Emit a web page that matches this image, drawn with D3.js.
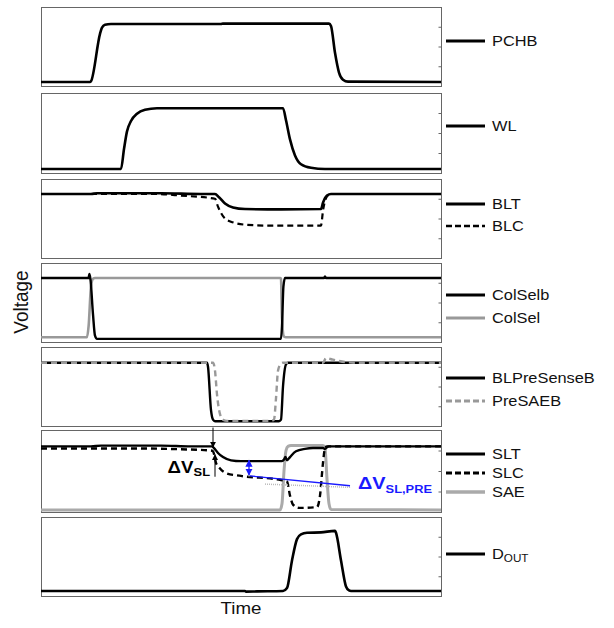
<!DOCTYPE html>
<html lang="en">
<head>
    <meta charset="UTF-8">
    <title>Read timing waveforms</title>
    <style>
        body {
            margin: 0;
            background: #fff;
        }
        svg text {
            font-family: "Liberation Sans", Arial, sans-serif;
        }
        .frame {
            fill: none;
            stroke: #666;
            stroke-width: 1px;
        }
        .trace {
            fill: none;
            stroke-linejoin: round;
            stroke-linecap: butt;
        }
        .legend-text {
            font-size: 14px;
            fill: #111;
        }
    </style>
</head>
<body>
    <svg id="chart" width="614" height="628"></svg>

    <script src="https://d3js.org/d3.v7.min.js"></script>
    <script>
        // waveforms: [time (ns), voltage (normalised)]
        const pchb = [[0,0.05],[2.45,0.05],[2.5,0.06],[2.95,0.66],[3.05,0.74],[3.2,0.775],[3.5,0.785],[9,0.785],[9.1,0.79],[14.4,0.79],[14.5,0.76],[14.7,0.42],[14.9,0.17],[15.1,0.08],[15.35,0.055],[20,0.05]];
        const wl = [[0,0.05],[4.0,0.05],[4.15,0.3],[4.3,0.52],[4.5,0.65],[4.8,0.74],[5.2,0.79],[5.8,0.81],[12.1,0.81],[12.25,0.66],[12.45,0.42],[12.7,0.22],[13.0,0.11],[13.5,0.065],[14.2,0.05],[20,0.05]];
        const blt = [[0,0.81],[2.5,0.81],[2.8,0.82],[6,0.82],[8,0.81],[8.7,0.81],[8.9,0.77],[9.2,0.69],[9.6,0.64],[10.2,0.62],[12,0.615],[14.0,0.62],[14.1,0.7],[14.3,0.79],[14.5,0.81],[20,0.81]];
        const blc = [[0,0.81],[5.8,0.81],[7.0,0.79],[8.7,0.75],[8.85,0.65],[9.1,0.53],[9.5,0.46],[10.3,0.42],[11.5,0.41],[14.0,0.41],[14.1,0.6],[14.3,0.78],[14.5,0.81],[20,0.81]];
        const colSelb = [[0,0.81],[2.38,0.81],[2.42,0.86],[2.47,0.8],[2.6,0.35],[2.7,0.08],[2.8,0.04],[12.0,0.04],[12.05,0.2],[12.12,0.7],[12.2,0.81],[14.15,0.81],[14.2,0.83],[14.25,0.81],[20,0.81]];
        const colSel = [[0,0.06],[2.3,0.06],[2.38,0.2],[2.5,0.7],[2.6,0.8],[2.7,0.81],[11.95,0.81],[12.0,0.8],[12.05,0.3],[12.15,0.07],[12.25,0.06],[20,0.06]];
        const blPreSenseB = [[0,0.8],[8.3,0.8],[8.35,0.75],[8.5,0.2],[8.6,0.08],[8.7,0.06],[11.9,0.06],[12.0,0.08],[12.1,0.5],[12.25,0.78],[12.35,0.8],[20,0.8]];
        const preSAEB = [[0,0.8],[8.6,0.8],[8.7,0.7],[8.8,0.4],[8.95,0.15],[9.1,0.08],[9.3,0.065],[11.5,0.065],[11.65,0.08],[11.75,0.35],[11.85,0.7],[12.0,0.79],[12.1,0.8],[14.1,0.8],[14.25,0.86],[14.6,0.84],[15.2,0.81],[16,0.8],[20,0.8]];
        const slt = [[0,0.8],[2.5,0.8],[3.0,0.81],[6,0.81],[7.5,0.8],[8.55,0.8],[8.65,0.78],[8.85,0.72],[9.1,0.67],[9.5,0.63],[10.0,0.62],[12.05,0.62],[12.15,0.64],[12.22,0.67],[12.3,0.63],[12.45,0.67],[12.75,0.74],[13.2,0.77],[13.6,0.78],[14.1,0.78],[14.2,0.77],[14.3,0.79],[14.4,0.8],[20,0.8]];
        const slc = [[0,0.775],[5,0.775],[7,0.765],[8.5,0.75],[8.6,0.74],[8.75,0.6],[8.95,0.53],[9.3,0.47],[10,0.44],[12.0,0.39],[12.3,0.37],[12.45,0.2],[12.6,0.09],[12.9,0.05],[13.8,0.06],[13.95,0.2],[14.1,0.6],[14.2,0.78],[14.3,0.8],[20,0.8]];
        const sae = [[0,0.025],[11.95,0.025],[12.05,0.1],[12.15,0.5],[12.25,0.75],[12.35,0.8],[12.5,0.81],[14.1,0.81],[14.2,0.78],[14.3,0.4],[14.4,0.1],[14.5,0.03],[20,0.025]];
        const dout = [[0,0.063],[10.2,0.063],[10.25,0.055],[10.8,0.058],[12.1,0.063],[12.3,0.1],[12.55,0.45],[12.8,0.72],[13.0,0.78],[13.3,0.8],[14.0,0.805],[14.7,0.825],[14.75,0.8],[15.0,0.45],[15.25,0.12],[15.4,0.07],[15.5,0.063],[20,0.063]];

        const panelSeries = [
            ["PCHB"],
            ["WL"],
            ["BLT", "BLC"],
            ["ColSelb", "ColSel"],
            ["BLPreSenseB", "PreSAEB"],
            ["SLT", "SLC", "SAE"],
            ["DOUT"]
        ];

        const seriesData = {
            PCHB: pchb, WL: wl, BLT: blt, BLC: blc, ColSelb: colSelb, ColSel: colSel,
            BLPreSenseB: blPreSenseB, PreSAEB: preSAEB, SLT: slt, SLC: slc, SAE: sae, DOUT: dout
        };

        // look of each trace
        const styles = {
            PCHB: { color: "#000", width: 2.6 },
            WL: { color: "#000", width: 2.6 },
            BLT: { color: "#000", width: 2.6 },
            BLC: { color: "#000", width: 2.2, dash: "6,4" },
            ColSelb: { color: "#000", width: 2.4 },
            ColSel: { color: "#999", width: 2.6 },
            BLPreSenseB: { color: "#000", width: 2.4 },
            PreSAEB: { color: "#999", width: 2.4, dash: "6,4" },
            SLT: { color: "#000", width: 2.4 },
            SLC: { color: "#000", width: 2.4, dash: "6,4" },
            SAE: { color: "#aaa", width: 3 },
            DOUT: { color: "#000", width: 2.6 }
        };

        // draw order per panel (back to front)
        const drawOrder = [
            ["PCHB"], ["WL"], ["BLT", "BLC"], ["ColSel", "ColSelb"],
            ["BLPreSenseB", "PreSAEB"], ["SAE", "SLT", "SLC"], ["DOUT"]
        ];

        const panelTops = [7, 93, 179, 263, 347, 430, 517];
        const panelBottoms = [86, 173, 258, 342, 426, 512, 596];
        const legendOffsets = [[34], [33], [25, 47], [32, 55], [31, 54], [24, 43, 62], [37]];

        const svg = d3.select("#chart");
        const left = 41, right = 441;
        const stretch = 1.17; // the source figure is a bit wider than tall

        const x = d3.scaleLinear().domain([0, 20]).range([left, right]);

        const line = (y) => d3.line()
            .x(d => x(d[0]))
            .y(d => y(d[1]))
            .curve(d3.curveMonotoneX);

        const yScales = [];

        panelSeries.forEach((names, i) => {
            const top = panelTops[i], bottom = panelBottoms[i];
            const y = d3.scaleLinear().domain([0, 1]).range([bottom, top]);
            yScales.push(y);
            const g = svg.append("g").attr("class", "panel");

            g.append("rect")
                .attr("class", "frame")
                .attr("x", left + 0.5)
                .attr("y", top + 0.5)
                .attr("width", right - left)
                .attr("height", bottom - top);

            // small inward ticks on the right edge
            const ticks = d3.axisLeft(y).tickValues([0.25, 0.5, 0.75]).tickSize(3).tickFormat("");
            const ax = g.append("g").attr("transform", `translate(${right + 0.5},0)`).call(ticks);
            ax.select(".domain").remove();
            ax.selectAll("line").attr("stroke", "#666").attr("x2", -3);

            drawOrder[i].forEach(name => {
                const s = styles[name];
                g.append("path")
                    .datum(seriesData[name])
                    .attr("class", "trace")
                    .attr("stroke", s.color)
                    .attr("stroke-width", s.width)
                    .attr("stroke-dasharray", s.dash || null)
                    .attr("d", line(y));
            });

            // legend
            names.forEach((name, k) => {
                const s = styles[name];
                const ly = top + legendOffsets[i][k];
                g.append("line")
                    .attr("x1", 446).attr("x2", 485)
                    .attr("y1", ly).attr("y2", ly)
                    .attr("stroke", s.color)
                    .attr("stroke-width", s.width + 0.4)
                    .attr("stroke-dasharray", s.dash ? "6,3" : null);
                const t = g.append("text")
                    .attr("class", "legend-text")
                    .attr("transform", `translate(492,${ly + 5}) scale(${stretch},1)`);
                if (name === "DOUT") {
                    t.append("tspan").text("D");
                    t.append("tspan").attr("font-size", "10px").attr("dy", 3).text("OUT");
                } else {
                    t.text(name);
                }
            });
        });

        // axis titles
        svg.append("text")
            .attr("transform", "translate(28,302) rotate(-90) scale(1,1.1)")
            .attr("text-anchor", "middle")
            .attr("font-size", "19px")
            .attr("fill", "#111")
            .text("Voltage");

        svg.append("text")
            .attr("transform", `translate(241,614) scale(${stretch},1)`)
            .attr("text-anchor", "middle")
            .attr("font-size", "16px")
            .attr("fill", "#111")
            .text("Time");

        // annotations in the SL panel
        const yb = yScales[4], ys = yScales[5];
        const defs = svg.append("defs");
        [["arrBlack", "#000"], ["arrBlue", "#1a1aff"]].forEach(([id, c]) => {
            defs.append("marker")
                .attr("id", id)
                .attr("viewBox", "0 0 10 10")
                .attr("refX", 9).attr("refY", 5)
                .attr("markerWidth", 6).attr("markerHeight", 6)
                .attr("orient", "auto-start-reverse")
                .append("path")
                .attr("d", "M0,0L10,5L0,10z")
                .attr("fill", c);
        });

        const ann = svg.append("g");
        // arrow from BLPreSenseB falling edge down to SLT
        ann.append("line")
            .attr("x1", x(8.6)).attr("x2", x(8.6))
            .attr("y1", yb(-0.02)).attr("y2", ys(0.79))
            .attr("stroke", "#000").attr("stroke-width", 1)
            .attr("marker-end", "url(#arrBlack)");
        // dV_SL arrow
        ann.append("line")
            .attr("x1", x(8.7)).attr("x2", x(8.7))
            .attr("y1", ys(0.43)).attr("y2", ys(0.7))
            .attr("stroke", "#000").attr("stroke-width", 1)
            .attr("marker-end", "url(#arrBlack)");
        const t1 = ann.append("text")
            .attr("transform", `translate(${x(8.45)},${ys(0.47)}) scale(${stretch},1)`)
            .attr("text-anchor", "end")
            .attr("font-weight", "bold")
            .attr("font-size", "16px")
            .attr("fill", "#000");
        t1.append("tspan").text("ΔV");
        t1.append("tspan").attr("font-size", "11px").attr("dy", 3).text("SL");

        // dV_SL,PRE double arrow + leader
        ann.append("line")
            .attr("x1", x(10.4)).attr("x2", x(10.4))
            .attr("y1", ys(0.43)).attr("y2", ys(0.65))
            .attr("stroke", "#aaa").attr("stroke-width", 1)
            .attr("stroke-dasharray", "1,1");
        ann.append("line")
            .attr("x1", x(10.4)).attr("x2", x(10.4))
            .attr("y1", ys(0.45)).attr("y2", ys(0.63))
            .attr("stroke", "#1a1aff").attr("stroke-width", 1.2)
            .attr("marker-start", "url(#arrBlue)")
            .attr("marker-end", "url(#arrBlue)");
        ann.append("line")
            .attr("x1", x(11.2)).attr("x2", x(15.5))
            .attr("y1", ys(0.34)).attr("y2", ys(0.3))
            .attr("stroke", "#bbb").attr("stroke-width", 1.5)
            .attr("stroke-dasharray", "1,1");
        ann.append("line")
            .attr("x1", x(10.45)).attr("x2", x(15.45))
            .attr("y1", ys(0.44)).attr("y2", ys(0.32))
            .attr("stroke", "#1a1aff").attr("stroke-width", 1.3);
        const t2 = ann.append("text")
            .attr("transform", `translate(${x(15.85)},${ys(0.28)}) scale(${stretch},1)`)
            .attr("font-weight", "bold")
            .attr("font-size", "17px")
            .attr("fill", "#1a1aff");
        t2.append("tspan").text("ΔV");
        t2.append("tspan").attr("font-size", "11px").attr("dy", 4).text("SL,PRE");
    </script>
</body>
</html>
